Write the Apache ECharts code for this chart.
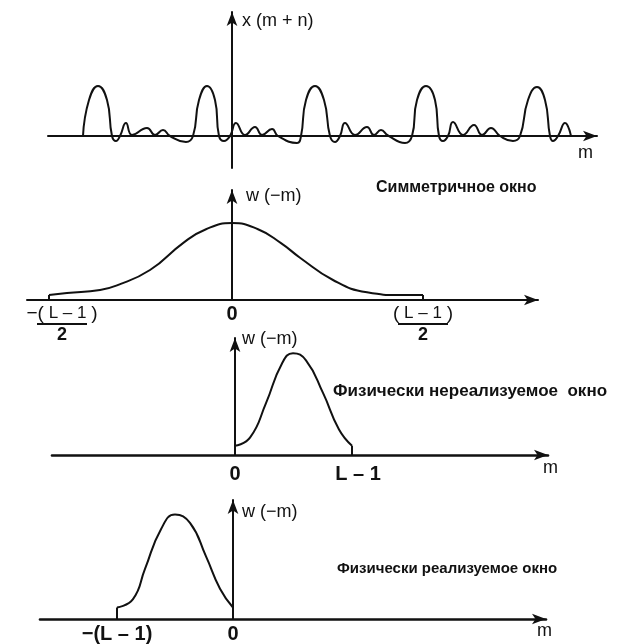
<!DOCTYPE html>
<html><head><meta charset="utf-8">
<script src="https://cdn.jsdelivr.net/npm/echarts@6/dist/echarts.min.js"></script>
<style>html,body{margin:0;padding:0;background:#fff}#c{width:631px;height:644px}</style>
</head><body><div id="c"></div>
<script>
// Panel 1: x(m+n), m units, amplitude normalised to main peak
const seqX = [-14.9,-14.3,-13.4,-12.5,-12.0,-11.6,-11.2,-10.6,-10.0,-8.5,-7.7,-6.9,-6.2,-4.6,-3.9,
  -3.3,-2.5,-1.7,-1.3,-0.8,-0.2,0.4,1.3,2.3,3.0,4.0,4.6,6.5,6.9,
  7.4,8.3,9.2,9.8,10.3,10.8,11.3,12.3,13.5,14.2,14.9,15.6,17.3,18.0,
  18.5,19.4,20.3,20.7,21.1,21.6,22.1,23.1,24.2,25.0,25.9,26.8,28.1,28.8,
  29.6,30.5,31.3,31.8,32.1,32.6,33.3,33.9];
const seqY = [0,0.72,1.0,0.72,0,-0.1,0,0.26,0.02,0.16,0.02,0.12,0,-0.12,0,
  0.72,1.0,0.72,0,-0.1,0,0.26,0.02,0.18,0.02,0.14,0,-0.14,0,
  0.72,1.0,0.72,0,-0.12,0,0.26,0.02,0.18,0.02,0.12,0.01,-0.14,0,
  0.72,1.0,0.72,0,-0.1,0,0.28,0.02,0.22,0.02,0.16,0,-0.1,0,
  0.72,0.98,0.72,0,-0.1,0,0.26,0];

// Panel 2: symmetric window w(-m)
const symX = [-18.3,-16.5,-13.2,-11.5,-8.2,-4.9,-2.6,0,2.6,4.9,6.8,10.1,13.5,16.8,19.1];
const symY = [0.065,0.09,0.13,0.19,0.39,0.74,0.92,1.0,0.92,0.74,0.55,0.26,0.10,0.065,0.065];
const symEdgeL = [[-18.3,0],[-18.3,0.065]];
const symEdgeR = [[19.1,0.065],[19.1,0]];
const symTicks = [-17.0, 0, 19.1];

// Panel 3: non-causal window (0 .. L-1)
const ncX = [0,1.5,3.1,4.7,5.8,7.1,8.8,10.4,11.7];
const ncY = [0.09,0.17,0.51,0.90,1.0,0.93,0.61,0.25,0.09];
const ncEdge = [[11.7,0.09],[11.7,0]];
const ncTicks = [0, 12.3];

// Panel 4: causal window (-(L-1) .. 0)
const cX = [-11.6,-10.0,-8.8,-7.2,-5.8,-4.3,-2.7,-1.3,0];
const cY = [0.11,0.19,0.48,0.86,1.0,0.92,0.60,0.29,0.11];
const cEdge = [[-11.6,0],[-11.6,0.11]];
const cTicks = [-11.6, 0];

const FONT = '"Liberation Sans", Arial, sans-serif';
const INK = '#111';
const zip = (xs, ys) => xs.map((x, i) => [x, ys[i]]);

const grids = [
  {left: 48, top: 12, width: 549, height: 156},
  {left: 27, top: 190, width: 511, height: 110},
  {left: 52, top: 338, width: 496, height: 117},
  {left: 40, top: 500, width: 506, height: 120}
];
const xr = [[-18.4, 36.5], [-20.5, 30.6], [-18.3, 31.3], [-19.3, 31.3]];
const yr = [[-0.64, 2.48], [0, 1.43], [0, 1.15], [0, 1.14]];
const xLineW = [2, 2, 2.6, 2.6];

function axisLine(w) {
  return {show: true, onZero: true, symbol: ['none', 'arrow'], symbolSize: [8, 14],
    lineStyle: {color: INK, width: w}};
}

const labelRich = {
  t: {fontFamily: FONT, fontSize: 19, color: INK},
  n: {fontFamily: FONT, fontSize: 17, color: INK},
  b: {width: 50, height: 2, lineHeight: 2, fontSize: 2, backgroundColor: INK},
  d: {fontFamily: FONT, fontSize: 18, color: INK, fontWeight: 'bold', lineHeight: 20},
  z: {fontFamily: FONT, fontSize: 20, color: INK, fontWeight: 'bold'}
};

function xAxisFor(i, ticks, fmt, margin) {
  const ax = {type: 'value', gridIndex: i, min: xr[i][0], max: xr[i][1],
    axisLine: axisLine(xLineW[i]), axisTick: {show: false}, splitLine: {show: false},
    axisLabel: {show: false}};
  if (ticks) {
    ax.axisLabel = {show: true, customValues: ticks, formatter: fmt, margin: margin,
      rich: labelRich, color: INK, fontFamily: FONT};
  }
  return ax;
}

const xAxes = [
  xAxisFor(0),
  xAxisFor(1, symTicks, v => v === 0 ? '{z|0}' :
    (v < 0 ? '{t|−(}{n| L – 1 }{t|)}\n{b| }\n{d|2}' : '{t|(}{n| L – 1 }{t|)}\n{b| }\n{d|2}'), 4),
  xAxisFor(2, ncTicks, v => v === 0 ? '{z|0}' : '{z|L – 1}', 9),
  xAxisFor(3, cTicks, v => v === 0 ? '{z|0}' : '{z|−(L – 1)}', 5)
];
const yAxes = [0,1,2,3].map(i => ({type: 'value', gridIndex: i, min: yr[i][0], max: yr[i][1],
  axisLine: axisLine(2), axisTick: {show: false}, splitLine: {show: false}, axisLabel: {show: false}}));

function line(i, data, smooth) {
  return {type: 'line', xAxisIndex: i, yAxisIndex: i, data: data, showSymbol: false,
    smooth: smooth, lineStyle: {color: INK, width: 2}, silent: true};
}

const series = [
  line(0, zip(seqX, seqY), 0.5),
  line(1, zip(symX, symY), 0.5),
  line(1, symEdgeL, false),
  line(1, symEdgeR, false),
  line(2, zip(ncX, ncY), 0.5),
  line(2, ncEdge, false),
  line(3, zip(cX, cY), 0.5),
  line(3, cEdge, false)
];

function txt(left, top, text, size, weight) {
  return {type: 'text', left: left, top: top,
    style: {text: text, font: (weight || 'normal') + ' ' + size + 'px ' + FONT, fill: INK}};
}

const graphic = [
  txt(242, 12, 'x (m + n)', 18),
  txt(578, 144, 'm', 18),
  txt(376, 180, 'Симметричное окно', 16, 'bold'),
  txt(246, 187, 'w (−m)', 18),
  txt(242, 330, 'w (−m)', 18),
  txt(333, 383, 'Физически нереализуемое  окно', 17, 'bold'),
  txt(543, 459, 'm', 18),
  txt(242, 503, 'w (−m)', 18),
  txt(337, 561, 'Физически реализуемое окно', 15, 'bold'),
  txt(537, 622, 'm', 18)
];

const chart = echarts.init(document.getElementById('c'), null, {renderer: 'canvas'});
chart.setOption({
  animation: false,
  backgroundColor: '#fff',
  grid: grids,
  xAxis: xAxes,
  yAxis: yAxes,
  series: series,
  graphic: graphic
});
</script></body></html>
